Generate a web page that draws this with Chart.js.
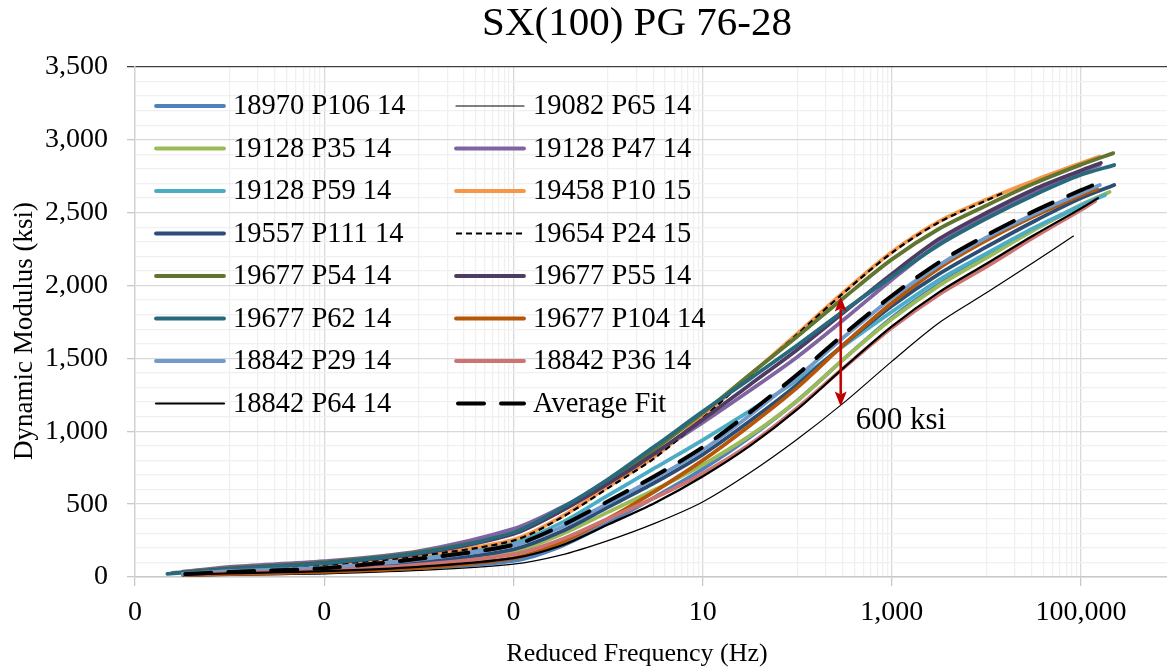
<!DOCTYPE html>
<html><head><meta charset="utf-8">
<script src="https://cdn.jsdelivr.net/npm/chart.js@4/dist/chart.umd.min.js"></script>
<style>html,body{margin:0;padding:0;background:#fff;}canvas{display:block;}</style>
</head><body>
<canvas id="c" width="1167" height="671"></canvas>
<script>
// ---------------- data ----------------
const chartTitle = 'SX(100) PG 76-28';
const xTitle = 'Reduced Frequency (Hz)';
const yTitle = 'Dynamic Modulus (ksi)';
const seriesNames = ['18970 P106 14','19082 P65 14','19128 P35 14','19128 P47 14','19128 P59 14','19458 P10 15','19557 P111 14','19654 P24 15','19677 P54 14','19677 P55 14','19677 P62 14','19677 P104 14','18842 P29 14','18842 P36 14','18842 P64 14','Average Fit'];

// common reduced-frequency grid (Hz)
const freqGrid = [1e-4, 1e-3, 0.01, 0.1, 0.316, 1, 3.16, 10, 31.6, 100, 316, 1000, 3162, 10000, 31623, 100000];
// first and last points of each series
const startHz  = [3.2e-5,3.2e-5,3.2e-5,3.2e-5,3.2e-5,3.2e-5,3.2e-5,3.2e-5,2.5e-5,3.2e-5,2.2e-5,3.4e-5,3.2e-5,3.4e-5,3.4e-5,3.4e-5];
const startVal = [14,8,18,36,24,26,20,24,28,30,22,14,22,18,16,20];
const endHz    = [1.58e5,8.3e4,2.0e5,1.58e5,1.8e5,1.58e5,2.24e5,1.48e4,2.19e5,1.62e5,2.24e5,1.48e5,1.58e5,1.41e5,1.51e5,1.7e5];
const endVal   = [2610,2340,2642,2830,2621,2885,2690,2635,2909,2841,2827,2662,2690,2580,2600,2717];

// modulus (ksi) at freqGrid
const m18970P106 = [20,32,60,110,210,370,550,740,960,1210,1500,1780,2010,2200,2385,2550];
const m19082P65  = [12,22,45,88,150,250,370,515,715,945,1200,1480,1745,1950,2160,null];
const m19128P35  = [30,50,95,175,290,445,600,770,970,1210,1500,1770,2000,2190,2380,2555];
const m19128P47  = [70,108,178,330,475,650,850,1060,1280,1510,1770,2040,2290,2480,2640,2780];
const m19128P59  = [42,70,135,235,370,560,750,940,1140,1350,1590,1820,2040,2220,2395,2550];
const m19458P10  = [45,85,150,255,410,620,830,1100,1385,1670,1960,2230,2440,2590,2720,2840];
const m19557P111 = [35,55,100,190,310,480,650,840,1070,1320,1600,1860,2080,2265,2440,2600];
const m19654P24  = [42,80,145,250,405,610,820,1090,1380,1665,1955,2225,2435,2585,null,null];
const m19677P54  = [60,100,170,300,460,650,880,1125,1390,1650,1920,2180,2390,2550,2700,2830];
const m19677P55  = [55,95,160,295,450,640,850,1080,1320,1560,1820,2080,2320,2500,2660,2790];
const m19677P62  = [55,95,165,305,470,670,900,1135,1360,1590,1830,2060,2280,2460,2620,2760];
const m19677P104 = [20,35,62,130,235,400,590,800,1040,1300,1600,1880,2120,2310,2475,2620];
const m18842P29  = [40,65,120,215,340,505,680,870,1110,1370,1650,1915,2140,2330,2490,2635];
const m18842P36  = [28,45,85,155,255,400,545,710,910,1160,1440,1710,1940,2130,2330,2520];
const m18842P64  = [25,40,70,130,215,360,510,690,900,1150,1440,1720,1955,2150,2345,2530];
const mAverage   = [35,60,125,220,350,520,695,890,1130,1390,1670,1930,2160,2345,2510,2655];
const seriesValues = [m18970P106,m19082P65,m19128P35,m19128P47,m19128P59,m19458P10,m19557P111,m19654P24,m19677P54,m19677P55,m19677P62,m19677P104,m18842P29,m18842P36,m18842P64,mAverage];

// axis ticks
const xMajorTicks = [1e-5, 1e-3, 0.1, 10, 1000, 100000];
const xTickLabels = ['0','0','0','10','1,000','100,000'];
const xMin = 1e-5, xMax = 8.1e5;
const yMin = 0, yMax = 3500, yMajorStep = 500, yMinorStep = 100;

// annotation (600 ksi spread)
const arrowHz = 288, arrowTop = 1925, arrowBottom = 1170;
const noteText = '600 ksi', noteVal = 1070;

// ---------------- styles ----------------
const lineColors = ['#4F81BD','#000000','#9BBB59','#8064A2','#4BACC6','#F79646','#2C4D75','#000000','#5F7530','#4D3B62','#276A7C','#B65708','#729ACA','#CD7371','#000000','#000000'];
const lineWidths = [3.8,1.2,3.8,3.8,3.8,3.8,3.8,2.2,3.8,3.8,3.8,3.8,3.8,3.8,2.2,4];
const lineDashes = [[],[],[],[],[],[],[],[6,4],[],[],[],[],[],[],[],[26,17]];
const SERIF = '"Liberation Serif","Times New Roman",serif';

function buildPoints(i){
  const pts = [{x:startHz[i], y:startVal[i]}];
  seriesValues[i].forEach((v,k)=>{ if(v!==null && freqGrid[k] > startHz[i] && freqGrid[k] < endHz[i]) pts.push({x:freqGrid[k], y:v}); });
  pts.push({x:endHz[i], y:endVal[i]});
  return pts;
}
const isMajorX = v => xMajorTicks.some(m => Math.abs(Math.log10(v) - Math.log10(m)) < 1e-6);

const datasets = seriesNames.map((name,i)=>({
  label: name,
  data: buildPoints(i),
  borderColor: lineColors[i],
  borderWidth: lineWidths[i],
  borderDash: lineDashes[i],
  borderCapStyle: i===7 ? 'butt' : 'round',
  borderJoinStyle: 'round',
  pointRadius: 0,
  fill: false,
  tension: 0.3,
  order: -i
}));

const decorPlugin = {
  id: 'decor',
  afterDatasetsDraw(chart){
    const ctx = chart.ctx, xs = chart.scales.x, ys = chart.scales.y;
    const px = xs.getPixelForValue(arrowHz);
    const pt = ys.getPixelForValue(arrowTop), pb = ys.getPixelForValue(arrowBottom);
    const hl = 15, hw = 6, notch = 3;
    ctx.save();
    ctx.strokeStyle = '#C00000'; ctx.fillStyle = '#C00000'; ctx.lineWidth = 2.5;
    ctx.beginPath(); ctx.moveTo(px, pt + hl - notch); ctx.lineTo(px, pb - hl + notch); ctx.stroke();
    ctx.beginPath(); ctx.moveTo(px, pt); ctx.lineTo(px - hw, pt + hl); ctx.lineTo(px, pt + hl - notch); ctx.lineTo(px + hw, pt + hl); ctx.closePath(); ctx.fill();
    ctx.beginPath(); ctx.moveTo(px, pb); ctx.lineTo(px - hw, pb - hl); ctx.lineTo(px, pb - hl + notch); ctx.lineTo(px + hw, pb - hl); ctx.closePath(); ctx.fill();
    ctx.fillStyle = '#000'; ctx.font = '31px ' + SERIF; ctx.textAlign = 'left'; ctx.textBaseline = 'middle';
    ctx.fillText(noteText, px + 15, ys.getPixelForValue(noteVal));
    ctx.restore();
  },
  afterDraw(chart){
    const ctx = chart.ctx;
    ctx.save();
    // legend (2 columns, row-major)
    ctx.textAlign = 'left'; ctx.textBaseline = 'middle'; ctx.font = '28.5px ' + SERIF;
    seriesNames.forEach((name,i)=>{
      const col = i % 2, row = Math.floor(i/2);
      const x0 = 156 + col*300, y = 106 + row*42.5;
      ctx.strokeStyle = lineColors[i]; ctx.lineWidth = lineWidths[i];
      ctx.setLineDash(lineDashes[i]);
      ctx.lineCap = (i===7) ? 'butt' : 'round';
      ctx.beginPath(); ctx.moveTo(x0 + (i===15?2:0), y); ctx.lineTo(x0 + 68, y); ctx.stroke();
      ctx.setLineDash([]);
      ctx.fillStyle = '#000';
      ctx.fillText(name, 233 + col*300, y + 1);
    });
    // titles
    ctx.textAlign = 'center'; ctx.textBaseline = 'middle'; ctx.fillStyle = '#000';
    ctx.font = '41px ' + SERIF; ctx.fillText(chartTitle, 637, 24);
    ctx.font = '26px ' + SERIF; ctx.fillText(xTitle, 637, 654);
    ctx.font = '27px ' + SERIF;
    ctx.translate(25, 331); ctx.rotate(-Math.PI/2); ctx.fillText(yTitle, 0, 0);
    ctx.restore();
  }
};

new Chart(document.getElementById('c'), {
  type: 'line',
  data: { datasets },
  plugins: [decorPlugin],
  options: {
    responsive: false, animation: false, devicePixelRatio: 1,
    layout: { padding: { top: 67, left: 0, right: 0, bottom: 0 } },
    plugins: { legend: { display: false }, tooltip: { enabled: false }, title: { display: false } },
    scales: {
      x: {
        type: 'logarithmic', min: xMin, max: xMax,
        afterBuildTicks(axis){
          const t = [];
          xMajorTicks.forEach(m => {
            t.push({value: m});
            for (let k = 1; k <= 9; k++) { const v = m*10*k; if (v < xMax && !xMajorTicks.includes(v)) t.push({value: v}); }
          });
          axis.ticks = t.filter(o => o.value >= xMin && o.value <= xMax).sort((a,b)=>a.value-b.value);
        },
        afterFit(axis){ axis.height = 94; },
        ticks: {
          autoSkip: false, maxRotation: 0, minRotation: 0, padding: 10,
          color: '#000', font: { family: SERIF, size: 28 },
          callback(v){ const k = xMajorTicks.findIndex(m => Math.abs(Math.log10(v) - Math.log10(m)) < 1e-6); return k >= 0 ? xTickLabels[k] : ''; }
        },
        grid: {
          color: c => (c.tick && isMajorX(c.tick.value)) ? '#d9d9d9' : '#f0f0f0',
          tickColor: c => (c.tick && isMajorX(c.tick.value)) ? '#c8c8c8' : 'rgba(0,0,0,0)',
          lineWidth: 1.3, tickLength: 9, drawTicks: true
        },
        border: { display: true, color: '#c8c8c8', width: 1.5 }
      },
      y: {
        type: 'linear', min: yMin, max: yMax,
        afterBuildTicks(axis){
          const t = [];
          for (let v = yMin; v <= yMax; v += yMinorStep) t.push({value: v});
          axis.ticks = t;
        },
        afterFit(axis){ axis.width = 135; },
        ticks: {
          autoSkip: false, padding: 19, color: '#000', font: { family: SERIF, size: 28 },
          callback(v){ return v % yMajorStep === 0 ? v.toLocaleString('en-US') : ''; }
        },
        grid: {
          color: c => !c.tick ? '#d9d9d9' : (c.tick.value === yMax ? '#404040' : (c.tick.value % yMajorStep === 0 ? '#d9d9d9' : '#f0f0f0')),
          tickColor: c => !c.tick ? '#c8c8c8' : (c.tick.value === yMax ? '#404040' : (c.tick.value % yMajorStep === 0 ? '#c8c8c8' : 'rgba(0,0,0,0)')),
          lineWidth: 1.3, tickLength: 8
        },
        border: { display: true, color: '#d0d0d0', width: 1.3 }
      }
    }
  }
});
</script>
</body></html>
